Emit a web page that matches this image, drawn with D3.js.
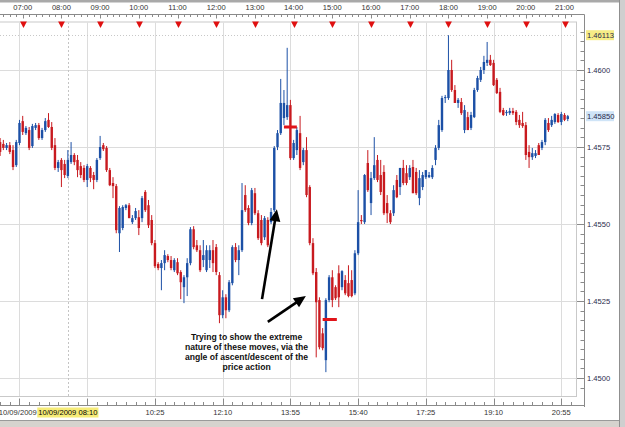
<!DOCTYPE html>
<html><head><meta charset="utf-8">
<script src="https://cdn.jsdelivr.net/npm/d3@7"></script>
<style>body{margin:0;background:#fff;overflow:hidden}svg{display:block}</style>
</head><body><svg id="c" width="625" height="427"></svg>
<script>
// ---- DATA ----
const firstCandle = "06:25";      // 5-minute candles, EURUSD 10/09/2009
const candleMinutes = 5;
const open = [
1.45766,1.45760,1.45747,1.45756,1.45740,1.45691,1.45763,1.45834,1.45795,1.45805,
1.45753,1.45812,1.45821,1.45779,1.45805,1.45838,1.45815,1.45756,1.45682,1.45708,
1.45695,1.45656,1.45701,1.45724,1.45708,1.45688,1.45682,1.45643,1.45682,1.45659,
1.45643,1.45714,1.45756,1.45747,1.45675,1.45633,1.45623,1.45470,1.45487,1.45552,
1.45561,1.45506,1.45519,1.45522,1.45519,1.45604,1.45561,1.45513,1.45438,1.45370,
1.45357,1.45373,1.45396,1.45383,1.45350,1.45376,1.45344,1.45295,1.45327,1.45373,
1.45483,1.45431,1.45415,1.45383,1.45350,1.45383,1.45415,1.45425,1.45334,1.45204,
1.45262,1.45220,1.45308,1.45425,1.45383,1.45415,1.45594,1.45552,1.45503,1.45600,
1.45535,1.45513,1.45457,1.45513,1.45506,1.45545,1.45750,1.45795,1.45844,1.45847,
1.45886,1.45714,1.45740,1.45795,1.45701,1.45740,1.45620,1.45438,1.45344,1.45253,
1.45145,1.45058,1.45253,1.45327,1.45295,1.45340,1.45295,1.45318,1.45308,1.45318,
1.45275,1.45405,1.45513,1.45506,1.45698,1.45568,1.45649,1.45708,1.45659,1.45669,
1.45568,1.45535,1.45535,1.45643,1.45620,1.45682,1.45665,1.45652,1.45685,1.45669,
1.45584,1.45620,1.45652,1.45652,1.45652,1.45708,1.45747,1.45805,1.45909,1.45909,
1.46000,1.45935,1.45893,1.45896,1.45805,1.45847,1.45812,1.45847,1.45935,1.45968,
1.46000,1.46023,1.46033,1.46023,1.45968,1.45929,1.45870,1.45860,1.45860,1.45867,
1.45864,1.45838,1.45828,1.45821,1.45734,1.45717,1.45721,1.45756,1.45747,1.45766,
1.45828,1.45821,1.45831,1.45854,1.45831,1.45854,1.45841];
const high = [
1.45779,1.45773,1.45763,1.45766,1.45756,1.45773,1.45838,1.45851,1.45818,1.45815,
1.45825,1.45828,1.45828,1.45812,1.45844,1.45860,1.45831,1.45779,1.45708,1.45714,
1.45708,1.45740,1.45766,1.45730,1.45724,1.45701,1.45691,1.45695,1.45688,1.45669,
1.45714,1.45786,1.45763,1.45753,1.45682,1.45652,1.45630,1.45558,1.45561,1.45565,
1.45568,1.45529,1.45552,1.45545,1.45591,1.45610,1.45578,1.45529,1.45448,1.45376,
1.45383,1.45415,1.45402,1.45396,1.45389,1.45389,1.45350,1.45334,1.45389,1.45490,
1.45493,1.45448,1.45431,1.45448,1.45431,1.45431,1.45448,1.45435,1.45344,1.45285,
1.45272,1.45318,1.45431,1.45438,1.45431,1.45633,1.45626,1.45561,1.45617,1.45617,
1.45545,1.45529,1.45526,1.45522,1.45552,1.45753,1.45805,1.45971,1.45935,1.46072,
1.45903,1.45773,1.45815,1.45851,1.45747,1.45782,1.45626,1.45454,1.45357,1.45262,
1.45162,1.45259,1.45334,1.45350,1.45301,1.45366,1.45350,1.45334,1.45366,1.45350,
1.45415,1.45610,1.45529,1.45662,1.45740,1.45669,1.45782,1.45724,1.45708,1.45691,
1.45594,1.45545,1.45626,1.45659,1.45682,1.45708,1.45691,1.45691,1.45708,1.45682,
1.45675,1.45669,1.45675,1.45669,1.45691,1.45756,1.45838,1.45916,1.45919,1.46113,
1.46033,1.45951,1.45909,1.45909,1.45886,1.45864,1.45864,1.45942,1.45981,1.46010,
1.46046,1.46091,1.46049,1.46033,1.45974,1.45942,1.45877,1.45870,1.45877,1.45877,
1.45870,1.45854,1.45864,1.45831,1.45756,1.45747,1.45740,1.45763,1.45773,1.45844,
1.45844,1.45851,1.45860,1.45860,1.45864,1.45860,1.45854];
const low = [
1.45721,1.45740,1.45740,1.45727,1.45675,1.45685,1.45756,1.45789,1.45789,1.45740,
1.45747,1.45805,1.45773,1.45773,1.45799,1.45812,1.45740,1.45675,1.45669,1.45620,
1.45649,1.45649,1.45695,1.45691,1.45652,1.45649,1.45636,1.45620,1.45636,1.45613,
1.45636,1.45708,1.45737,1.45669,1.45623,1.45584,1.45470,1.45409,1.45480,1.45545,
1.45519,1.45500,1.45513,1.45464,1.45506,1.45539,1.45487,1.45431,1.45357,1.45350,
1.45285,1.45350,1.45376,1.45350,1.45344,1.45334,1.45256,1.45243,1.45266,1.45366,
1.45418,1.45409,1.45344,1.45360,1.45344,1.45357,1.45344,1.45334,1.45178,1.45194,
1.45194,1.45214,1.45301,1.45376,1.45334,1.45409,1.45539,1.45496,1.45496,1.45529,
1.45448,1.45431,1.45448,1.45425,1.45500,1.45539,1.45740,1.45789,1.45821,1.45838,
1.45708,1.45708,1.45724,1.45675,1.45691,1.45587,1.45431,1.45334,1.45067,1.45093,
1.45090,1.45019,1.45246,1.45230,1.45253,1.45230,1.45285,1.45269,1.45262,1.45262,
1.45269,1.45399,1.45500,1.45500,1.45604,1.45529,1.45643,1.45636,1.45594,1.45529,
1.45503,1.45500,1.45526,1.45584,1.45594,1.45626,1.45626,1.45643,1.45600,1.45594,
1.45561,1.45610,1.45646,1.45649,1.45646,1.45691,1.45740,1.45799,1.45893,1.45903,
1.45929,1.45893,1.45877,1.45854,1.45795,1.45805,1.45805,1.45844,1.45929,1.45961,
1.45987,1.46013,1.46013,1.45948,1.45922,1.45860,1.45851,1.45851,1.45854,1.45854,
1.45821,1.45812,1.45812,1.45708,1.45682,1.45708,1.45714,1.45724,1.45740,1.45756,
1.45799,1.45815,1.45825,1.45828,1.45821,1.45834,1.45834];
const close = [
1.45734,1.45747,1.45756,1.45734,1.45685,1.45766,1.45828,1.45799,1.45812,1.45747,
1.45818,1.45821,1.45779,1.45805,1.45834,1.45815,1.45747,1.45682,1.45701,1.45675,
1.45659,1.45708,1.45724,1.45701,1.45675,1.45659,1.45643,1.45688,1.45649,1.45643,
1.45708,1.45750,1.45743,1.45675,1.45626,1.45623,1.45480,1.45552,1.45555,1.45561,
1.45519,1.45519,1.45542,1.45487,1.45584,1.45545,1.45496,1.45438,1.45363,1.45357,
1.45373,1.45399,1.45383,1.45357,1.45383,1.45340,1.45311,1.45327,1.45373,1.45483,
1.45425,1.45415,1.45350,1.45399,1.45415,1.45415,1.45373,1.45344,1.45204,1.45262,
1.45220,1.45311,1.45425,1.45383,1.45415,1.45545,1.45545,1.45503,1.45610,1.45535,
1.45454,1.45438,1.45519,1.45431,1.45539,1.45747,1.45795,1.45893,1.45893,1.45886,
1.45714,1.45763,1.45805,1.45682,1.45740,1.45594,1.45438,1.45340,1.45246,1.45100,
1.45097,1.45253,1.45327,1.45253,1.45259,1.45262,1.45347,1.45275,1.45266,1.45266,
1.45405,1.45506,1.45509,1.45659,1.45610,1.45649,1.45691,1.45643,1.45604,1.45535,
1.45535,1.45506,1.45610,1.45587,1.45682,1.45633,1.45633,1.45682,1.45600,1.45600,
1.45649,1.45659,1.45675,1.45659,1.45682,1.45747,1.45821,1.45909,1.45912,1.46000,
1.45935,1.45893,1.45903,1.45860,1.45870,1.45805,1.45854,1.45935,1.45974,1.46000,
1.46026,1.46033,1.46016,1.45951,1.45925,1.45864,1.45854,1.45864,1.45867,1.45860,
1.45831,1.45821,1.45818,1.45724,1.45717,1.45730,1.45730,1.45724,1.45766,1.45838,
1.45805,1.45838,1.45857,1.45831,1.45857,1.45838,1.45850];

const hourLabels = ["07:00","08:00","09:00","10:00","11:00","12:00","13:00","14:00",
                    "15:00","16:00","17:00","18:00","19:00","20:00","21:00"];
const bottomLabels = ["06:55","08:40","10:25","12:10","13:55","15:40","17:25","19:10","20:55"];
const shownBottom = ["10:25","12:10","13:55","15:40","17:25","19:10","20:55"];
const priceTicks = [1.4500,1.4525,1.4550,1.4575,1.4600];
const highPrice = 1.46113;
const lastPrice = 1.45850;
const cursorTime = "08:10";
const dateText = "10/09/2009";
const markerBars = [
  {from:"13:45", to:"14:05", price:1.45815},
  {from:"14:45", to:"15:07", price:1.45190}];
const arrows = [
  {fromT:"13:11", fromP:1.45256, toT:"13:34", toP:1.45548},
  {fromT:"13:20", fromP:1.45182, toT:"14:19", toP:1.45266}];
const noteTime = "12:47";
const notePrice = 1.45123;
const noteLines = ["Trying to show the extreme","nature of these moves, via the",
                   "angle of ascent/descent of the","price action"];

// ---- CHART ----
const W = 625, H = 427;
const plot = {l:0, t:22, r:576.5, b:396.5};
const axisX = 584.5, rulerTop = 14.5, rulerBot = 405.5;
const pt = d3.timeParse("%H:%M"), pts = d3.timeParse("%H:%M:%S");
const x = d3.scaleTime().domain([pts("06:24:48"), pts("21:19:18")]).range([0, 577]);
const y = d3.scaleLinear().domain([1.45, 1.46]).range([378, 70]);
const t0 = pt(firstCandle);
const candles = open.map((o,i)=>({t:d3.timeMinute.offset(t0, i*candleMinutes), o, h:high[i], l:low[i], c:close[i]}));

const svg = d3.select("#c");
const FONT = "'Liberation Sans', Arial, sans-serif";
svg.append("rect").attr("width",W).attr("height",H).attr("fill","#fff");

// plot frame
svg.append("rect").attr("x",plot.l-1).attr("y",plot.t).attr("width",plot.r-plot.l+1).attr("height",plot.b-plot.t)
  .attr("fill","#fff").attr("stroke","#c9c9c9");
svg.append("defs").append("clipPath").attr("id","clip").append("rect")
  .attr("x",plot.l).attr("y",plot.t+0.5).attr("width",plot.r-plot.l).attr("height",plot.b-plot.t-1);
const g = svg.append("g").attr("clip-path","url(#clip)");

// grid
g.selectAll(".hg").data(priceTicks).join("line")
  .attr("x1",plot.l).attr("x2",plot.r).attr("y1",d=>Math.round(y(d))+0.5).attr("y2",d=>Math.round(y(d))+0.5)
  .attr("stroke","#dcdcdc");
g.selectAll(".vg").data(bottomLabels).join("line")
  .attr("y1",plot.t).attr("y2",plot.b).attr("x1",d=>Math.round(x(pt(d)))+0.5).attr("x2",d=>Math.round(x(pt(d)))+0.5)
  .attr("stroke","#dcdcdc");
g.append("line").attr("x1",plot.l).attr("x2",plot.r)
  .attr("y1",Math.round(y(highPrice))+0.5).attr("y2",Math.round(y(highPrice))+0.5)
  .attr("stroke","#c8c8c8").attr("stroke-dasharray","1,2");
g.append("line").attr("y1",plot.t).attr("y2",plot.b)
  .attr("x1",Math.round(x(pt(cursorTime)))+0.5).attr("x2",Math.round(x(pt(cursorTime)))+0.5)
  .attr("stroke","#c4c4c4").attr("stroke-dasharray","2,2");

// candles
const BLUE = "#1c50a6", RED = "#c81a1f";
const cg = g.selectAll(".cd").data(candles).join("g");
cg.append("line").attr("x1",d=>x(d.t)).attr("x2",d=>x(d.t))
  .attr("y1",d=>y(d.h)).attr("y2",d=>y(d.l))
  .attr("stroke",d=>d.c>=d.o?BLUE:RED).attr("stroke-width",1);
cg.append("rect").attr("x",d=>x(d.t)-1.2).attr("width",2.4)
  .attr("y",d=>y(Math.max(d.o,d.c)))
  .attr("height",d=>Math.max(1, Math.abs(y(d.o)-y(d.c))))
  .attr("fill",d=>d.c>=d.o?BLUE:RED);

// marker bars
g.selectAll(".mb").data(markerBars).join("line")
  .attr("x1",d=>x(pt(d.from))).attr("x2",d=>x(pt(d.to)))
  .attr("y1",d=>y(d.price)).attr("y2",d=>y(d.price))
  .attr("stroke","#e0141a").attr("stroke-width",3);

// arrows
arrows.forEach(a=>{
  const x0=x(pt(a.fromT)), y0=y(a.fromP), x1=x(pt(a.toT)), y1=y(a.toP);
  const dx=x1-x0, dy=y1-y0, L=Math.hypot(dx,dy), ux=dx/L, uy=dy/L;
  const hl=12, hw=5.5, bx=x1-ux*hl, by=y1-uy*hl;
  g.append("line").attr("x1",x0).attr("y1",y0).attr("x2",bx+ux*2).attr("y2",by+uy*2)
    .attr("stroke","#000").attr("stroke-width",2.6);
  g.append("path").attr("d",`M${x1},${y1}L${bx-uy*hw},${by+ux*hw}L${bx+uy*hw},${by-ux*hw}Z`).attr("fill","#000");
});

// note
const nt = g.append("text").attr("x",x(pt(noteTime))).attr("y",y(notePrice))
  .attr("text-anchor","middle").attr("font-family",FONT).attr("font-size",8.6).attr("font-weight","bold")
  .attr("fill","#111");
noteLines.forEach((s,i)=>nt.append("tspan").attr("x",x(pt(noteTime))).attr("dy",i?10:0).text(s));

// top ruler
svg.append("rect").attr("x",0).attr("y",0).attr("width",W).attr("height",2.5).attr("fill","#a9a9a9");
svg.append("line").attr("x1",0).attr("x2",axisX).attr("y1",rulerTop).attr("y2",rulerTop).attr("stroke","#8a8a8a");
const topTicks = d3.timeMinute.every(10).range(pts("06:30:00"), pts("21:20:00"));
svg.selectAll(".tt").data(topTicks).join("line")
  .attr("x1",d=>Math.round(x(d))+0.5).attr("x2",d=>Math.round(x(d))+0.5)
  .attr("y1",rulerTop).attr("y2",d=>d.getMinutes()===0?rulerTop+4:rulerTop+2.5).attr("stroke","#8a8a8a");
svg.selectAll(".tl").data(hourLabels).join("text")
  .attr("x",d=>x(pt(d))).attr("y",10).attr("text-anchor","middle")
  .attr("font-family",FONT).attr("font-size",7.6).attr("fill","#333").text(d=>d);
svg.selectAll(".tri").data(hourLabels).join("path")
  .attr("d",d=>{const cx=Math.round(x(pt(d)))+0.5;return `M${cx-3.4},21.5L${cx+3.4},21.5L${cx},28Z`;})
  .attr("fill","#e01010");
svg.append("line").attr("x1",axisX).attr("x2",axisX).attr("y1",rulerTop).attr("y2",rulerBot+1.5).attr("stroke","#8a8a8a");

// right axis
const minor = d3.range(-3, 37).map(k=>({v:1.45+k*0.0003125, major:k%8===0}))
  .filter(d=>y(d.v)>plot.t && y(d.v)<plot.b);
svg.selectAll(".ry").data(minor).join("line")
  .attr("x1",d=>d.major?577:580.5).attr("x2",axisX).attr("y1",d=>Math.round(y(d.v))+0.5).attr("y2",d=>Math.round(y(d.v))+0.5)
  .attr("stroke","#8a8a8a");
svg.selectAll(".rl").data(priceTicks).join("text")
  .attr("x",587).attr("y",d=>y(d)+3).attr("font-family",FONT).attr("font-size",7.6).attr("fill","#2a2a4a")
  .text(d=>d3.format(".4f")(d));
[[highPrice,"#f6ec86"],[lastPrice,"#cfe4f7"]].forEach(([v,bg])=>{
  svg.append("rect").attr("x",586).attr("y",y(v)-5).attr("width",28).attr("height",10).attr("fill",bg);
  svg.append("text").attr("x",587).attr("y",y(v)+3).attr("font-family",FONT).attr("font-size",7.6)
    .attr("fill","#2a2a4a").text(d3.format(".5f")(v));
});

// bottom ruler
svg.append("line").attr("x1",0).attr("x2",axisX).attr("y1",rulerBot).attr("y2",rulerBot).attr("stroke","#8a8a8a");
const botTicks = d3.timeMinute.every(5).range(pts("06:25:00"), pts("21:20:00"))
  .filter(d=>((d - pt("06:55"))/60000) % 15 === 0);
svg.selectAll(".bt").data(botTicks).join("line")
  .attr("x1",d=>Math.round(x(d))+0.5).attr("x2",d=>Math.round(x(d))+0.5)
  .attr("y1",d=>(((d - pt("06:55"))/60000) % 105 === 0)?rulerBot-7:rulerBot-3.5).attr("y2",rulerBot).attr("stroke","#8a8a8a");
svg.selectAll(".bl").data(shownBottom).join("text")
  .attr("x",d=>x(pt(d))).attr("y",415).attr("text-anchor","middle")
  .attr("font-family",FONT).attr("font-size",7.6).attr("fill","#333").text(d=>d);
// cursor date label
const cx = x(pt(cursorTime));
const lab = svg.append("g");
const labBg = lab.append("rect").attr("fill","#f6ec78");
const curTxt = lab.append("text").attr("x",cx).attr("y",415).attr("text-anchor","middle")
  .attr("font-family",FONT).attr("font-size",7.6).attr("fill","#000").text(dateText+" "+cursorTime);
const bb = curTxt.node().getBBox();
labBg.attr("x",bb.x-1).attr("y",407.5).attr("width",bb.width+2).attr("height",10);
svg.append("text").attr("x",bb.x-1.5).attr("y",415).attr("text-anchor","end")
  .attr("font-family",FONT).attr("font-size",7.6).attr("fill","#333").text(dateText);

// window chrome
svg.append("rect").attr("x",0).attr("y",420).attr("width",W).attr("height",7).attr("fill","#d6d3ce");
svg.append("line").attr("x1",0).attr("x2",W).attr("y1",420.5).attr("y2",420.5).attr("stroke","#9a9a9a");
svg.append("rect").attr("x",619).attr("y",0).attr("width",6).attr("height",H).attr("fill","#cfcfcf");
svg.append("line").attr("x1",619.5).attr("x2",619.5).attr("y1",0).attr("y2",H).attr("stroke","#8f8f8f");
</script></body></html>
